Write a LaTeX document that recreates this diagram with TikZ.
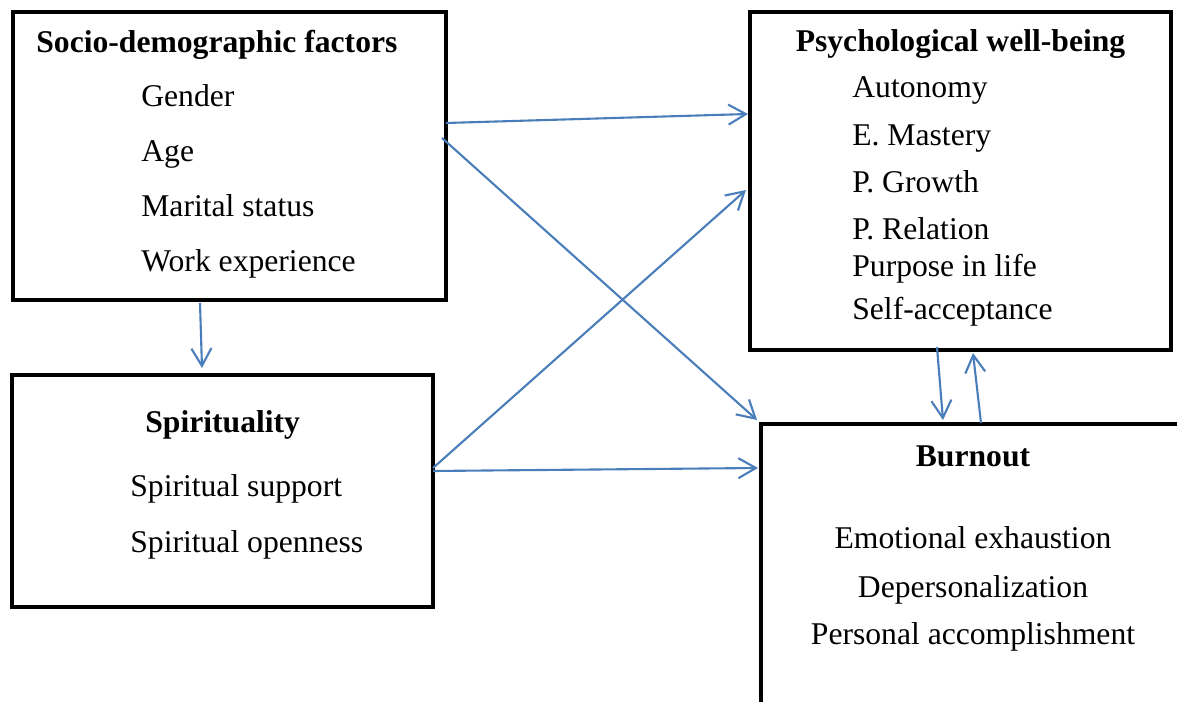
\documentclass[tikz,border=0pt]{standalone}
\usepackage{fontspec}
\setmainfont{Liberation Serif}
\usetikzlibrary{arrows.meta}
\usepackage{xcolor}
\definecolor{linkblue}{RGB}{74,126,187}

\tikzset{
  factorbox/.style={rectangle,draw=black,line width=2.6pt,inner sep=0pt,outer sep=0pt,anchor=north west},
  boxtitle/.style={inner sep=0pt,font=\fontsize{18}{22}\selectfont\bfseries},
  boxitem/.style={inner sep=0pt,anchor=base west,font=\fontsize{18}{22}\selectfont},
  link/.style={linkblue,line width=1.2pt,-{Straight Barb[length=3.5mm,width=4mm]}}
}

\begin{document}
\begin{tikzpicture}

  % ── PAGE ───────────────────────────────────────────────────────────────────
  \useasboundingbox (0,0) rectangle (23.54,14.02);
  \clip (0,0) rectangle (23.54,14.02);
  \fill[white] (0,0) rectangle (23.54,14.02);

  % ── BOXES ──────────────────────────────────────────────────────────────────
  % burnout box runs off the bottom-right edge
  \node[factorbox,minimum width=8.66cm,minimum height=5.76cm] (socio)   at (0.26,13.78) {};
  \node[factorbox,minimum width=8.42cm,minimum height=6.76cm] (psych)   at (15.00,13.78) {};
  \node[factorbox,minimum width=8.42cm,minimum height=4.64cm] (spirit)  at (0.24,6.52) {};
  \node[factorbox,minimum width=9.00cm,minimum height=6.20cm] (burnout) at (15.22,5.54) {};

  % ── SOCIO-DEMOGRAPHIC FACTORS ──────────────────────────────────────────────
  \node[boxtitle,anchor=base west] (sociotitle) at (0.72,12.96) {Socio-demographic factors};
  \node[boxitem] (gender)  at (2.82,11.88) {Gender};
  \node[boxitem] (age)     at (2.82,10.78) {Age};
  \node[boxitem] (marital) at (2.82,9.68)  {Marital status};
  \node[boxitem] (workexp) at (2.82,8.58)  {Work experience};

  % ── PSYCHOLOGICAL WELL-BEING ───────────────────────────────────────────────
  \node[boxtitle,anchor=base] (psychtitle) at (19.21,12.98) {Psychological well-being};
  \node[boxitem] (autonomy) at (17.04,12.06) {Autonomy};
  \node[boxitem] (mastery)  at (17.04,11.10) {E. Mastery};
  \node[boxitem] (growth)   at (17.04,10.16) {P. Growth};
  \node[boxitem] (relation) at (17.04,9.22)  {P. Relation};
  \node[boxitem] (purpose)  at (17.04,8.48)  {Purpose in life};
  \node[boxitem] (selfacc)  at (17.04,7.62)  {Self-acceptance};

  % ── SPIRITUALITY ───────────────────────────────────────────────────────────
  \node[boxtitle,anchor=base west] (spirittitle) at (2.90,5.36) {Spirituality};
  \node[boxitem] (support)  at (2.60,4.08) {Spiritual support};
  \node[boxitem] (openness) at (2.60,2.96) {Spiritual openness};

  % ── BURNOUT ────────────────────────────────────────────────────────────────
  \node[boxtitle,anchor=base] (burntitle) at (19.46,4.68) {Burnout};
  \node[boxitem,anchor=base] (exhaust) at (19.46,3.04) {Emotional exhaustion};
  \node[boxitem,anchor=base] (deperso) at (19.46,2.08) {Depersonalization};
  \node[boxitem,anchor=base] (accomp)  at (19.46,1.14) {Personal accomplishment};

  % ── LINKS ──────────────────────────────────────────────────────────────────
  \draw[link] ([yshift=-2.22cm]socio.north east) -- ([xshift=-0.04cm,yshift=-2.04cm]psych.north west);
  \draw[link] ([xshift=-0.08cm,yshift=-2.52cm]socio.north east) -- ([xshift=-0.08cm,yshift=0.08cm]burnout.north west);
  \draw[link] ([xshift=3.74cm,yshift=-0.06cm]socio.south west) -- ([xshift=3.80cm,yshift=0.14cm]spirit.north west);
  \draw[link] ([yshift=-1.86cm]spirit.north east) -- ([xshift=-0.08cm,yshift=-3.56cm]psych.north west);
  \draw[link] ([yshift=-1.92cm]spirit.north east) -- ([xshift=-0.06cm,yshift=-0.88cm]burnout.north west);

  % two-way link between well-being and burnout
  \draw[link] ([xshift=-0.47cm,yshift=0.06cm]psych.south) -- ([xshift=3.64cm,yshift=0.08cm]burnout.north west);
  \draw[link] ([xshift=4.40cm,yshift=0.02cm]burnout.north west) -- ([xshift=0.25cm,yshift=-0.06cm]psych.south);

\end{tikzpicture}
\end{document}
